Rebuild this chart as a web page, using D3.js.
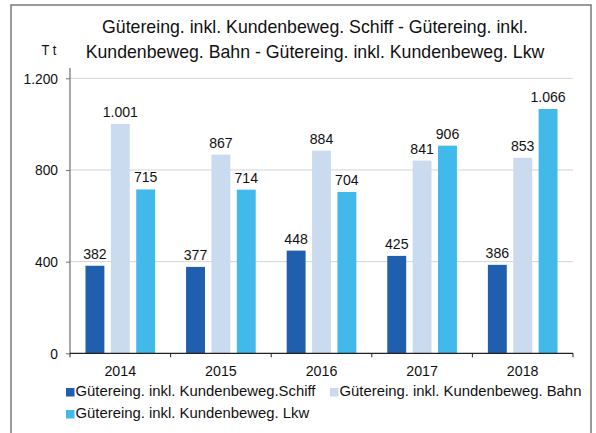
<!DOCTYPE html>
<html>
<head>
<meta charset="utf-8">
<script src="https://cdn.jsdelivr.net/npm/d3@7"></script>
<style>
  body { margin: 0; background: #fff; }
  svg { display: block; font-family: "Liberation Sans", Arial, sans-serif; }
</style>
</head>
<body>
<svg id="chart" width="596" height="433"></svg>
<script>
// chart values
const years = ["2014", "2015", "2016", "2017", "2018"];
const seriesNames = [
    "Gütereing. inkl. Kundenbeweg.Schiff",
    "Gütereing. inkl. Kundenbeweg. Bahn",
    "Gütereing. inkl. Kundenbeweg. Lkw"
];
const schiff = [382, 377, 448, 425, 386];
const bahn = [1001, 867, 884, 841, 853];
const lkw = [715, 714, 704, 906, 1066];
const yTicks = [0, 400, 800, 1200];
const titleLines = [
    "Gütereing. inkl. Kundenbeweg. Schiff - Gütereing. inkl.",
    "Kundenbeweg. Bahn - Gütereing. inkl. Kundenbeweg. Lkw"
];
const unitLabel = "T t";

const colors = ["#1f5fad", "#cbdbef", "#41b9ea"];
const series = [schiff, bahn, lkw];

// german number format, 1.200
const de = d3.formatLocale({decimal: ",", thousands: ".", grouping: [3], currency: ["", " €"]});
const fmt = de.format(",d");

const svg = d3.select("#chart");
const plot = {left: 70, right: 573, top: 68, bottom: 353.3};

// squeeze text a bit, the original font is narrower than arial
const squeeze = (sel, k) => sel.each(function() {
    const w = this.getComputedTextLength();
    d3.select(this).attr("textLength", w * k).attr("lengthAdjust", "spacingAndGlyphs");
});

// outer frame
svg.append("rect")
    .attr("x", 11).attr("y", 5)
    .attr("width", 580).attr("height", 460)
    .attr("fill", "none")
    .attr("stroke", "#7a7a7a")
    .attr("stroke-width", 1.5);

const x = d3.scaleBand().domain(years).range([plot.left, plot.right]);
const xs = d3.scaleBand().domain(d3.range(series.length))
    .range([0, x.bandwidth()])
    .paddingInner(0.255)
    .paddingOuter(0.61);
const y = d3.scaleLinear().domain([0, 1200]).range([plot.bottom, 78.3]);

// gridlines
svg.append("g")
    .selectAll("line")
    .data(yTicks.filter(d => d > 0))
    .join("line")
    .attr("x1", plot.left).attr("x2", plot.right)
    .attr("y1", d => y(d)).attr("y2", d => y(d))
    .attr("stroke", "#d4d4d4")
    .attr("stroke-width", 1);

// bars
const groups = svg.append("g")
    .selectAll("g")
    .data(series)
    .join("g")
    .attr("fill", (d, i) => colors[i]);

groups.selectAll("rect")
    .data((d, i) => d.map((v, j) => ({v, year: years[j], s: i})))
    .join("rect")
    .attr("x", d => x(d.year) + xs(d.s))
    .attr("y", d => y(d.v))
    .attr("width", xs.bandwidth())
    .attr("height", d => y(0) - y(d.v));

// value labels
groups.selectAll("text")
    .data((d, i) => d.map((v, j) => ({v, year: years[j], s: i})))
    .join("text")
    .attr("x", d => x(d.year) + xs(d.s) + xs.bandwidth() / 2)
    .attr("y", d => y(d.v) - 7)
    .attr("text-anchor", "middle")
    .attr("fill", "#111")
    .attr("font-size", 15)
    .text(d => fmt(d.v))
    .call(squeeze, 0.94);

// y axis
const yAxis = svg.append("g")
    .attr("transform", `translate(${plot.left},0)`)
    .call(d3.axisLeft(y).tickValues(yTicks).tickFormat(fmt).tickSize(4).tickPadding(8))
    .call(g => g.select(".domain").remove());
yAxis.selectAll(".tick line").attr("stroke", "#6f6f6f");
yAxis.selectAll(".tick text")
    .attr("font-size", 15)
    .attr("font-family", "Liberation Sans, Arial, sans-serif")
    .attr("fill", "#111")
    .call(squeeze, 0.92);
yAxis.append("line")
    .attr("y1", plot.top).attr("y2", plot.bottom)
    .attr("stroke", "#6f6f6f").attr("stroke-width", 1.2);

// x axis
const xAxis = svg.append("g").attr("transform", `translate(0,${plot.bottom})`);
xAxis.append("line")
    .attr("x1", plot.left).attr("x2", plot.right)
    .attr("stroke", "#222").attr("stroke-width", 1.2);
xAxis.selectAll(".sep")
    .data(years.map(d => x(d)).concat([plot.right]))
    .join("line")
    .attr("x1", d => d).attr("x2", d => d)
    .attr("y1", 0).attr("y2", 4)
    .attr("stroke", "#222");
xAxis.selectAll("text")
    .data(years)
    .join("text")
    .attr("x", d => x(d) + x.bandwidth() / 2)
    .attr("y", 23)
    .attr("text-anchor", "middle")
    .attr("font-size", 15)
    .attr("fill", "#111")
    .text(d => d)
    .call(squeeze, 0.95);

// title
svg.append("g")
    .selectAll("text")
    .data(titleLines)
    .join("text")
    .attr("x", 315)
    .attr("y", (d, i) => 32.7 + i * 25.6)
    .attr("text-anchor", "middle")
    .attr("font-size", 18.5)
    .attr("fill", "#111")
    .text(d => d)
    .call(squeeze, 0.957);

svg.append("text")
    .attr("x", 49)
    .attr("y", 55)
    .attr("text-anchor", "middle")
    .attr("font-size", 14)
    .attr("fill", "#111")
    .text(unitLabel)
    .call(squeeze, 0.92);

// legend
const legendPos = [[66, 388], [330, 388], [66, 410]];
const legend = svg.append("g")
    .selectAll("g")
    .data(seriesNames)
    .join("g")
    .attr("transform", (d, i) => `translate(${legendPos[i][0]},${legendPos[i][1]})`);
legend.append("rect")
    .attr("width", 8.5).attr("height", 8.5)
    .attr("fill", (d, i) => colors[i]);
legend.append("text")
    .attr("x", 9.5)
    .attr("y", 8.2)
    .attr("font-size", 15)
    .attr("fill", "#111")
    .text(d => d)
    .call(squeeze, 0.99);
</script>
</body>
</html>
